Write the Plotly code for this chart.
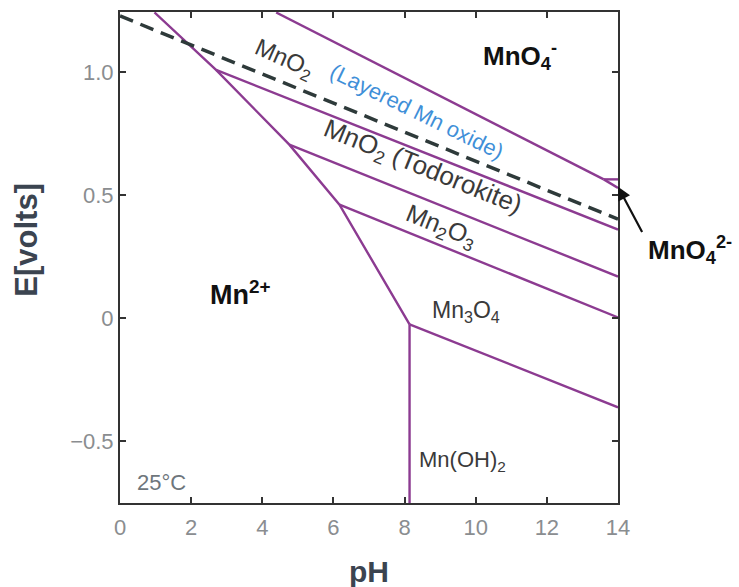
import plotly.graph_objects as go

# --- data ---
# Mn2+ boundary (steep polyline) nodes
mn2_ph = [0.97, 2.70, 4.76, 6.17, 8.14]
mn2_E = [1.243, 1.010, 0.706, 0.462, -0.024]
# Branches from each node to pH 14
branch_start_idx = [1, 2, 3, 4]
branch_end_ph = [14, 14, 14, 14]
branch_end_E = [0.361, 0.170, 0.004, -0.361]
# Mn(OH)2 vertical boundary
mnoh_ph = [8.14, 8.14]
mnoh_E = [-0.024, -0.75]
# MnO4- / MnO2 boundary
mno4_ph = [4.39, 13.6]
mno4_E = [1.243, 0.565]
# MnO4^2- small region
mno42_a_ph = [13.6, 14]
mno42_a_E = [0.565, 0.565]
mno42_b_ph = [13.6, 14]
mno42_b_E = [0.565, 0.53]
# water oxidation (dashed)
water_ph = [0, 14]
water_E = [1.229, 0.403]

x_ticks = [0, 2, 4, 6, 8, 10, 12, 14]
y_ticks = [-0.5, 0, 0.5, 1.0]
y_ticktext = ["\u22120.5", "0", "0.5", "1.0"]

PURPLE = "#8c3b91"
DARK = "#2e3a3a"
FONT = "Liberation Sans, Arial, sans-serif"

fig = go.Figure()

def seg(x, y, color=PURPLE, width=2.4, dash=None):
    fig.add_trace(go.Scatter(x=x, y=y, mode="lines",
                             line=dict(color=color, width=width, dash=dash),
                             hoverinfo="skip", showlegend=False))

seg(mn2_ph, mn2_E)
for i, xe, ye in zip(branch_start_idx, branch_end_ph, branch_end_E):
    seg([mn2_ph[i], xe], [mn2_E[i], ye])
seg(mnoh_ph, mnoh_E)
seg(mno4_ph, mno4_E)
seg(mno42_a_ph, mno42_a_E)
seg(mno42_b_ph, mno42_b_E)
seg(water_ph, water_E, color=DARK, width=3.5, dash="14px,8px")

label_dark = "#3a3a3a"
ann = [
    dict(x=11.25, y=1.065, text="<b>MnO<sub>4</sub><sup>-</sup></b>", font=dict(size=26, color="#111")),
    dict(x=3.4, y=0.105, text="<b>Mn<sup>2+</sup></b>", font=dict(size=27, color="#111")),
    dict(x=4.6, y=1.05, text="MnO<sub>2</sub>", textangle=24, font=dict(size=24, color=label_dark)),
    dict(x=8.34, y=0.84, text="(Layered Mn oxide)", textangle=26, font=dict(size=22, color="#3f8fd8")),
    dict(x=8.5, y=0.612, text="MnO<sub>2</sub> (Todorokite)", textangle=22, font=dict(size=26, color=label_dark)),
    dict(x=9.02, y=0.37, text="Mn<sub>2</sub>O<sub>3</sub>", textangle=22, font=dict(size=25, color=label_dark)),
    dict(x=9.72, y=0.03, text="Mn<sub>3</sub>O<sub>4</sub>", font=dict(size=23, color=label_dark)),
    dict(x=9.62, y=-0.58, text="Mn(OH)<sub>2</sub>", font=dict(size=22, color=label_dark)),
    dict(x=1.18, y=-0.665, text="25\u00b0C", font=dict(size=22, color="#6e767c")),
]
for a in ann:
    a.update(xref="x", yref="y", showarrow=False)
    a["font"]["family"] = FONT
    fig.add_annotation(**a)

# labels outside the plot area (paper coordinates)
fig.add_annotation(x=1.145, y=0.515, xref="paper", yref="paper", showarrow=False,
                   xanchor="center", yanchor="middle",
                   text="<b>MnO<sub>4</sub><sup>2-</sup></b>", font=dict(family=FONT, size=26, color="#111"))
fig.add_annotation(x=-0.187, y=0.536, xref="paper", yref="paper", showarrow=False,
                   xanchor="center", yanchor="middle",
                   text="<b>E[volts]</b>", textangle=-90,
                   font=dict(family=FONT, size=31, color="#3b4450"))
fig.add_annotation(x=0.5, y=-0.1405, xref="paper", yref="paper", showarrow=False,
                   xanchor="center", yanchor="middle",
                   text="<b>pH</b>", font=dict(family=FONT, size=30, color="#3b4450"))

# arrow pointing to MnO4^2- region
fig.add_annotation(x=14.0, y=0.535, ax=14.7, ay=0.345, xref="x", yref="y",
                   axref="x", ayref="y", text="", showarrow=True,
                   arrowhead=2, arrowsize=1.2, arrowwidth=2.2, arrowcolor="#111")

axis_common = dict(showline=True, linecolor="#333", linewidth=2, mirror="ticks",
                   ticks="inside", ticklen=6, tickwidth=1.5, tickcolor="#333",
                   showgrid=False, zeroline=False, automargin=False,
                   tickfont=dict(family=FONT, size=22, color="#8a8d90"))

fig.update_xaxes(range=[0, 14], tickvals=x_ticks, ticklabelstandoff=4, **axis_common)
fig.update_yaxes(range=[-0.75, 1.245], tickvals=y_ticks, ticktext=y_ticktext, **axis_common)

fig.update_layout(width=739, height=587, margin=dict(l=120, r=121, t=12, b=84),
                  plot_bgcolor="white", paper_bgcolor="white")

fig.write_html("out.html")
